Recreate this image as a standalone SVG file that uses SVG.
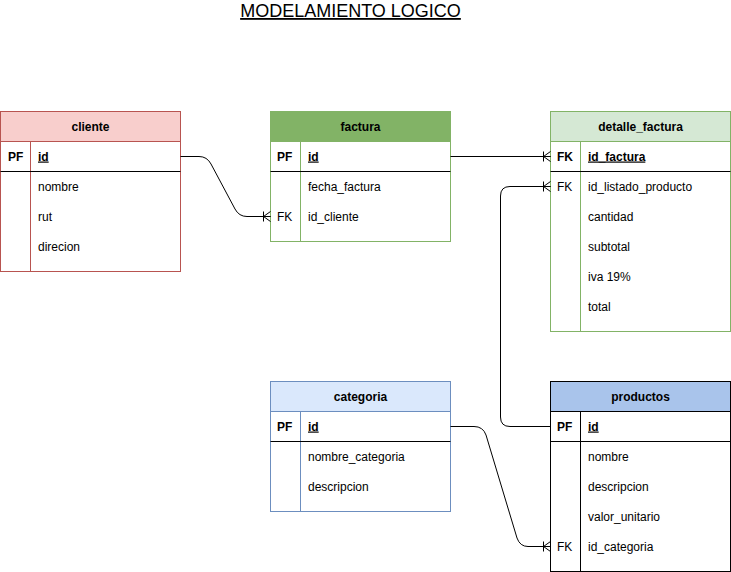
<svg xmlns="http://www.w3.org/2000/svg" width="731" height="572" viewBox="0 0 731 572">
<style>
text{font-family:"Liberation Sans",Arial,sans-serif;font-size:12px;fill:#000}
.h{font-weight:bold;text-anchor:middle}
.b{font-weight:bold}
.u{font-weight:bold;text-decoration:underline}
.t{font-size:18px;text-decoration:underline;text-anchor:middle}
.ln{stroke:#000;stroke-width:1;fill:none}
.e{stroke:#000;stroke-width:1;fill:none}
</style>
<defs>
<marker id="many" markerWidth="12" markerHeight="14" refX="10" refY="7" orient="auto" markerUnits="userSpaceOnUse">
<path d="M3,2 V12 M3,7 L10,2 M3,7 L10,12 M3,7 H10" fill="none" stroke="#000" stroke-width="1"/>
</marker>
</defs>
<rect width="731" height="572" fill="#fff"/>
<text class="t" x="350.5" y="17">MODELAMIENTO LOGICO</text>

<g id="cliente">
<rect x="0.5" y="111.5" width="180" height="160" fill="#fff" stroke="#b85450"/>
<rect x="0.5" y="111.5" width="180" height="30" fill="#f8cecc" stroke="#b85450"/>
<line x1="30.5" y1="141.5" x2="30.5" y2="271.5" stroke="#b85450"/>
<line class="ln" x1="0.5" y1="171.5" x2="180.5" y2="171.5"/>
<text class="h" x="90.5" y="130.5">cliente</text>
<text class="b" x="8" y="160.5">PF</text>
<text class="u" x="38" y="160.5">id</text>
<text x="38" y="190.5">nombre</text>
<text x="38" y="220.5">rut</text>
<text x="38" y="250.5">direcion</text>
</g>

<g id="factura">
<rect x="270.5" y="111.5" width="180" height="130" fill="#fff" stroke="#82b366"/>
<rect x="270.5" y="111.5" width="180" height="30" fill="#82b366" stroke="#82b366"/>
<line x1="300.5" y1="141.5" x2="300.5" y2="241.5" stroke="#82b366"/>
<line class="ln" x1="270.5" y1="171.5" x2="450.5" y2="171.5"/>
<text class="h" x="360.5" y="130.5">factura</text>
<text class="b" x="277" y="160.5">PF</text>
<text class="u" x="308" y="160.5">id</text>
<text x="308" y="190.5">fecha_factura</text>
<text x="277" y="220.5">FK</text>
<text x="308" y="220.5">id_cliente</text>
</g>

<g id="detalle_factura">
<rect x="550.5" y="111.5" width="180" height="220" fill="#fff" stroke="#82b366"/>
<rect x="550.5" y="111.5" width="180" height="30" fill="#d5e8d4" stroke="#82b366"/>
<line x1="580.5" y1="141.5" x2="580.5" y2="331.5" stroke="#82b366"/>
<line class="ln" x1="550.5" y1="171.5" x2="730.5" y2="171.5"/>
<text class="h" x="640.5" y="130.5">detalle_factura</text>
<text class="b" x="557" y="160.5">FK</text>
<text class="u" x="588" y="160.5">id_factura</text>
<text x="557" y="190.5">FK</text>
<text x="588" y="190.5">id_listado_producto</text>
<text x="588" y="220.5">cantidad</text>
<text x="588" y="250.5">subtotal</text>
<text x="588" y="280.5">iva 19%</text>
<text x="588" y="310.5">total</text>
</g>

<g id="categoria">
<rect x="270.5" y="381.5" width="180" height="130" fill="#fff" stroke="#6c8ebf"/>
<rect x="270.5" y="381.5" width="180" height="30" fill="#dae8fc" stroke="#6c8ebf"/>
<line x1="300.5" y1="411.5" x2="300.5" y2="511.5" stroke="#6c8ebf"/>
<line class="ln" x1="270.5" y1="441.5" x2="450.5" y2="441.5"/>
<text class="h" x="360.5" y="400.5">categoria</text>
<text class="b" x="277" y="430.5">PF</text>
<text class="u" x="308" y="430.5">id</text>
<text x="308" y="460.5">nombre_categoria</text>
<text x="308" y="490.5">descripcion</text>
</g>

<g id="productos">
<rect x="550.5" y="381.5" width="180" height="190" fill="#fff" stroke="#000"/>
<rect x="550.5" y="381.5" width="180" height="30" fill="#a9c4eb" stroke="#000"/>
<line x1="580.5" y1="411.5" x2="580.5" y2="571.5" stroke="#000"/>
<line class="ln" x1="550.5" y1="441.5" x2="730.5" y2="441.5"/>
<text class="h" x="640.5" y="400.5">productos</text>
<text class="b" x="557" y="430.5">PF</text>
<text class="u" x="588" y="430.5">id</text>
<text x="588" y="460.5">nombre</text>
<text x="588" y="490.5">descripcion</text>
<text x="588" y="520.5">valor_unitario</text>
<text x="557" y="550.5">FK</text>
<text x="588" y="550.5">id_categoria</text>
</g>

<g id="connectors">
<path class="e" d="M180.5,156.5 H199 Q207,156.5 211,164 L235,209 Q239,216.5 247,216.5 H270.5" marker-end="url(#many)"/>
<path class="e" d="M450.5,156.5 H550.5" marker-end="url(#many)"/>
<path class="e" d="M550.5,426.5 H510 Q500.5,426.5 500.5,417 V196 Q500.5,186.5 510,186.5 H550.5" marker-end="url(#many)"/>
<path class="e" d="M450.5,426.5 H474 Q483,426.5 486,435 L517,538 Q520,546.5 528,546.5 H550.5" marker-end="url(#many)"/>
</g>
</svg>
